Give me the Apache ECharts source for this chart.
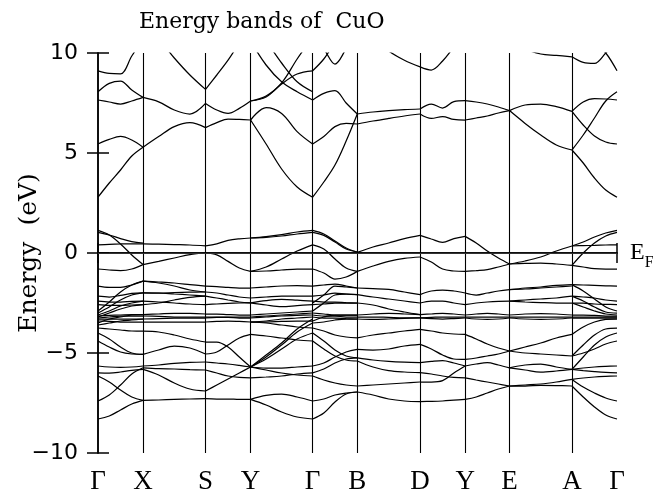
<!DOCTYPE html>
<html><head><meta charset="utf-8">
<script src="https://cdn.jsdelivr.net/npm/echarts@6/dist/echarts.min.js"></script>
<style>html,body{margin:0;padding:0;background:#fff}#c{width:653px;height:493px}</style>
</head><body><div id="c"></div>
<script>
// k-path positions of the high-symmetry points (arbitrary units)
const kNodes = [0, 45, 107.4, 152.4, 214.4, 259, 321.7, 366.7, 411, 473.4, 518.4];
const kLabels = ['Γ', 'X', 'S', 'Y', 'Γ', 'B', 'D', 'Y', 'E', 'A', 'Γ'];
const yTicks = [-10, -5, 0, 5, 10];
const yTickLabels = ['\u221210', '\u22125', '0', '5', '10'];

// Each segment: list of bands, energies (eV) sampled evenly along the segment
const bandsGX = [
  [2.79, 3.5, 4.15, 4.85, 5.29], [5.45, 5.68, 5.83, 5.65, 5.29], [7.65, 7.55, 7.45, 7.6, 7.78],
  [8.06, 8.48, 8.6, 8.15, 7.78], [9.11, 8.98, 8.96, 9.85, 10.7],
  [1.13, 0.9, 0.45, -0.1, -0.58], [1.03, 0.9, 0.72, 0.57, 0.5], [0.41, 0.43, 0.45, 0.46, 0.46],
  [-0.8, -0.85, -0.88, -0.8, -0.58],
  [-1.66, -1.72, -1.72, -1.6, -1.41], [-2.9, -2.45, -1.95, -1.6, -1.41], [-2.16, -2.2, -2.12, -2.02, -1.99],
  [-3.0, -2.7, -2.35, -2.1, -1.99], [-2.41, -2.45, -2.45, -2.42, -2.41], [-3.1, -2.9, -2.65, -2.5, -2.41],
  [-2.58, -2.62, -2.62, -2.6, -2.58], [-3.2, -3.0, -2.8, -2.65, -2.58], [-3.15, -3.12, -3.1, -3.08, -3.08],
  [-3.25, -3.2, -3.15, -3.15, -3.15], [-3.3, -3.3, -3.3, -3.3, -3.3], [-3.4, -3.42, -3.45, -3.45, -3.45],
  [-3.5, -3.3, -3.2, -3.1, -3.08], [-3.6, -3.5, -3.4, -3.35, -3.3], [-3.75, -3.8, -3.85, -3.9, -3.91],
  [-4.0, -4.3, -4.7, -5.0, -5.07], [-4.4, -4.7, -4.95, -5.05, -5.07], [-5.65, -5.7, -5.72, -5.7, -5.65],
  [-5.99, -6.0, -5.95, -5.87, -5.82], [-6.15, -6.45, -6.85, -7.2, -7.37], [-7.4, -7.1, -6.6, -6.05, -5.74],
  [-8.3, -8.15, -7.85, -7.55, -7.37]
];
const bandsXS = [
  [5.29, 5.82, 6.32, 6.52, 6.27], [7.78, 7.56, 7.15, 6.95, 7.48], [11.4, 10.7, 9.75, 8.9, 8.18],
  [0.46, 0.44, 0.42, 0.4, 0.36], [-0.58, -0.42, -0.25, -0.08, 0.0],
  [-1.41, -1.45, -1.5, -1.58, -1.66], [-1.41, -1.5, -1.65, -1.85, -1.95], [-1.99, -2.0, -2.05, -2.1, -2.16],
  [-1.99, -2.0, -1.98, -1.96, -1.95], [-2.41, -2.45, -2.5, -2.55, -2.58], [-2.58, -2.5, -2.35, -2.22, -2.16],
  [-3.08, -3.05, -3.02, -3.02, -3.05], [-3.15, -3.17, -3.2, -3.2, -3.2], [-3.3, -3.28, -3.26, -3.25, -3.25],
  [-3.45, -3.45, -3.45, -3.45, -3.45], [-3.91, -3.95, -4.1, -4.3, -4.45], [-5.07, -4.85, -4.65, -4.75, -5.05],
  [-5.65, -5.6, -5.52, -5.47, -5.45], [-5.74, -5.78, -5.8, -5.83, -5.85], [-5.82, -6.1, -6.5, -6.8, -6.9],
  [-7.37, -7.35, -7.32, -7.3, -7.28]
];
const bandsSY = [
  [6.27, 6.52, 6.7, 6.68, 6.65], [7.48, 7.15, 6.98, 7.23, 7.6], [8.18, 8.9, 9.64, 10.5, 11.3],
  [0.36, 0.46, 0.63, 0.71, 0.75], [0.0, -0.09, -0.42, -0.75, -0.92],
  [-1.66, -1.68, -1.72, -1.75, -1.75], [-1.95, -2.0, -2.1, -2.2, -2.25], [-2.16, -2.25, -2.35, -2.45, -2.49],
  [-2.58, -2.55, -2.52, -2.5, -2.49], [-3.05, -3.05, -3.08, -3.1, -3.1], [-3.2, -3.2, -3.2, -3.2, -3.2],
  [-3.25, -3.22, -3.22, -3.25, -3.25], [-3.45, -3.42, -3.4, -3.42, -3.45], [-4.45, -4.45, -4.7, -5.2, -5.7],
  [-5.05, -4.95, -4.6, -4.25, -4.07], [-5.45, -5.5, -5.55, -5.62, -5.7], [-5.85, -6.0, -6.15, -6.22, -6.24],
  [-6.9, -6.6, -6.3, -6.0, -5.7], [-7.28, -7.3, -7.3, -7.32, -7.32]
];
const bandsYG = [
  [6.65, 5.45, 4.2, 3.3, 2.79], [6.65, 7.27, 6.98, 6.07, 5.45], [7.6, 7.8, 8.45, 8.95, 9.11],
  [7.6, 7.85, 8.5, 9.7, 10.8], [10.6, 9.4, 8.56, 8.06, 7.65], [11.6, 10.6, 9.5, 8.56, 8.06],
  [0.75, 0.82, 0.92, 1.05, 1.13], [0.75, 0.78, 0.85, 0.95, 1.03], [-0.92, -0.7, -0.3, 0.1, 0.41],
  [-0.92, -0.9, -0.85, -0.8, -0.8],
  [-1.75, -1.7, -1.65, -1.63, -1.66], [-2.25, -2.2, -2.15, -2.15, -2.16], [-2.49, -2.38, -2.32, -2.36, -2.41],
  [-2.49, -2.6, -2.68, -2.63, -2.58], [-3.1, -3.05, -3.0, -2.95, -2.9], [-3.2, -3.15, -3.1, -3.05, -3.0],
  [-3.25, -3.2, -3.15, -3.12, -3.1], [-3.45, -3.4, -3.3, -3.25, -3.2], [-3.45, -3.45, -3.42, -3.4, -3.4],
  [-3.45, -3.5, -3.6, -3.7, -3.75], [-4.07, -4.15, -4.25, -4.35, -4.4], [-5.7, -5.1, -4.5, -3.8, -3.3],
  [-5.7, -5.2, -4.6, -3.95, -3.5], [-5.7, -5.3, -4.8, -4.3, -4.0], [-5.7, -5.75, -5.75, -5.7, -5.65],
  [-5.7, -5.85, -6.0, -6.1, -6.15], [-6.24, -6.2, -6.15, -6.05, -5.99], [-7.32, -7.6, -7.95, -8.2, -8.3],
  [-7.32, -7.12, -7.05, -7.2, -7.4]
];
const bandsGB = [
  [2.79, 3.55, 4.4, 5.6, 6.95], [5.45, 5.82, 6.32, 6.48, 6.45], [7.65, 7.98, 8.12, 7.5, 6.95],
  [9.11, 9.7, 10.5, 11, 11.5], [10.8, 10.2, 9.45, 10.2, 11],
  [1.13, 0.95, 0.6, 0.25, 0.05], [1.03, 0.88, 0.55, 0.2, 0.05], [0.41, 0.2, -0.3, -0.75, -0.92],
  [-0.8, -1.0, -1.3, -1.2, -0.92],
  [-1.66, -1.6, -1.55, -1.65, -1.75], [-2.5, -2.1, -1.65, -1.7, -1.75], [-2.16, -2.1, -2.0, -2.05, -2.08],
  [-2.9, -2.5, -2.1, -2.05, -2.08], [-2.41, -2.45, -2.45, -2.48, -2.5], [-2.58, -2.55, -2.5, -2.5, -2.5],
  [-3.0, -3.05, -3.1, -3.1, -3.1], [-3.1, -3.15, -3.15, -3.2, -3.2], [-3.2, -3.25, -3.25, -3.28, -3.3],
  [-3.4, -3.2, -3.1, -3.1, -3.1], [-3.5, -3.45, -3.35, -3.3, -3.3], [-3.75, -3.9, -4.1, -4.2, -4.24],
  [-4.0, -4.4, -4.85, -5.15, -5.24], [-4.4, -4.8, -5.15, -5.35, -5.4], [-5.65, -5.5, -5.2, -4.95, -4.82],
  [-5.99, -5.8, -5.5, -5.3, -5.24], [-6.15, -6.35, -6.5, -6.6, -6.65], [-7.4, -7.3, -7.1, -7.0, -6.95],
  [-8.3, -8.0, -7.45, -7.05, -6.95]
];
const bandsBD = [
  [6.95, 7.05, 7.12, 7.17, 7.2], [6.45, 6.6, 6.73, 6.85, 6.95], [11.6, 10.8, 10.1, 9.64, 9.31],
  [0.03, 0.3, 0.5, 0.72, 0.88], [-0.92, -0.65, -0.42, -0.27, -0.2],
  [-1.75, -1.78, -1.82, -1.95, -2.08], [-2.08, -2.2, -2.3, -2.4, -2.5], [-2.5, -2.6, -2.8, -2.95, -3.08],
  [-3.1, -3.05, -3.02, -3.05, -3.08], [-3.2, -3.2, -3.22, -3.24, -3.24], [-3.3, -3.32, -3.3, -3.27, -3.24],
  [-4.24, -4.1, -4.0, -3.9, -3.82], [-4.82, -4.85, -4.8, -4.65, -4.57], [-5.24, -5.35, -5.42, -5.46, -5.48],
  [-5.4, -5.7, -5.88, -5.95, -5.98], [-6.65, -6.6, -6.55, -6.5, -6.45], [-6.95, -7.1, -7.3, -7.4, -7.43]
];
const bandsDY = [
  [9.31, 9.15, 9.6, 10.3, 11], [7.2, 7.45, 7.25, 7.57, 7.62], [6.95, 6.73, 6.82, 6.68, 6.65],
  [0.88, 0.7, 0.53, 0.72, 0.83], [-0.2, -0.45, -0.8, -0.9, -0.92],
  [-2.08, -1.9, -1.85, -1.9, -2.0], [-2.5, -2.4, -2.4, -2.5, -2.58], [-3.08, -3.05, -3.02, -3.05, -3.1],
  [-3.24, -3.22, -3.2, -3.2, -3.2], [-3.24, -3.28, -3.3, -3.28, -3.25], [-3.82, -3.9, -4.0, -4.05, -4.07],
  [-4.57, -4.8, -5.1, -5.3, -5.32], [-5.48, -5.42, -5.38, -5.5, -5.65], [-5.98, -6.05, -6.15, -6.22, -6.24],
  [-6.45, -6.45, -6.38, -6.0, -5.65], [-7.43, -7.42, -7.4, -7.36, -7.32]
];
const bandsYE = [
  [7.62, 7.55, 7.45, 7.3, 7.12], [6.65, 6.75, 6.85, 7.0, 7.12],
  [0.83, 0.5, 0.1, -0.25, -0.55], [-0.92, -0.88, -0.83, -0.7, -0.55],
  [-2.0, -2.1, -2.0, -1.9, -1.83], [-2.58, -2.5, -2.45, -2.42, -2.41], [-3.1, -3.05, -3.02, -3.05, -3.1],
  [-3.2, -3.2, -3.2, -3.2, -3.2], [-3.25, -3.3, -3.32, -3.3, -3.25], [-4.07, -4.3, -4.55, -4.75, -4.9],
  [-5.32, -5.25, -5.15, -5.05, -4.9], [-5.65, -5.55, -5.48, -5.6, -5.74], [-6.24, -6.35, -6.45, -6.55, -6.65],
  [-7.32, -7.2, -7.0, -6.8, -6.65]
];
const bandsEA = [
  [7.12, 7.4, 7.45, 7.32, 7.08], [7.12, 6.48, 5.9, 5.4, 5.15], [10.6, 10.2, 9.95, 9.88, 9.81],
  [-0.55, -0.4, -0.2, 0.1, 0.35], [-0.55, -0.52, -0.5, -0.55, -0.62],
  [-1.83, -1.75, -1.7, -1.62, -1.58], [-1.83, -1.8, -1.75, -1.7, -1.65], [-2.41, -2.35, -2.3, -2.25, -2.16],
  [-2.41, -2.45, -2.48, -2.5, -2.5], [-3.1, -3.05, -3.03, -3.05, -3.1], [-3.2, -3.2, -3.2, -3.2, -3.2],
  [-3.25, -3.3, -3.32, -3.3, -3.25], [-4.9, -4.7, -4.5, -4.25, -4.07], [-4.9, -5.0, -5.05, -5.1, -5.15],
  [-5.74, -5.6, -5.55, -5.7, -5.82], [-5.74, -5.85, -5.95, -5.9, -5.82], [-6.65, -6.6, -6.55, -6.45, -6.32],
  [-6.65, -6.65, -6.62, -6.63, -6.65]
];
const bandsAG = [
  [7.08, 6.4, 5.85, 5.55, 5.45], [7.08, 7.55, 7.72, 7.7, 7.65], [5.15, 5.9, 6.75, 7.6, 8.06],
  [5.15, 4.5, 3.75, 3.15, 2.79], [9.81, 9.53, 9.48, 10.0, 10.6], [11.5, 11, 10.5, 10.0, 9.11],
  [0.35, 0.55, 0.8, 1.0, 1.13], [0.35, 0.37, 0.38, 0.4, 0.41], [-0.62, 0.0, 0.5, 0.85, 1.03],
  [-0.62, -0.7, -0.78, -0.8, -0.8],
  [-1.58, -1.6, -1.62, -1.64, -1.66], [-1.58, -1.9, -2.3, -2.7, -2.9], [-2.16, -2.4, -2.7, -2.95, -3.0],
  [-2.16, -2.2, -2.25, -2.35, -2.41], [-2.5, -2.7, -2.9, -3.05, -3.1], [-2.5, -2.5, -2.55, -2.57, -2.58],
  [-3.1, -3.1, -3.12, -3.15, -3.15], [-3.2, -3.2, -3.2, -3.2, -3.2], [-3.25, -3.25, -3.25, -3.25, -3.25],
  [-4.07, -3.7, -3.45, -3.32, -3.3], [-5.15, -4.6, -4.1, -3.8, -3.75], [-5.82, -5.2, -4.6, -4.2, -4.0],
  [-5.15, -5.0, -4.8, -4.55, -4.4], [-5.82, -5.75, -5.7, -5.67, -5.65], [-5.82, -5.88, -5.93, -5.97, -5.99],
  [-6.32, -6.25, -6.2, -6.17, -6.15], [-6.32, -6.7, -7.0, -7.25, -7.4], [-6.65, -7.2, -7.7, -8.1, -8.3]
];

const segments = [bandsGX, bandsXS, bandsSY, bandsYG, bandsGB, bandsBD, bandsDY, bandsYE, bandsEA, bandsAG];

const series = [];
segments.forEach((lines, s) => {
  const k0 = kNodes[s], k1 = kNodes[s + 1];
  lines.forEach(line => {
    const n = line.length;
    series.push({
      type: 'line', smooth: 0.35, symbol: 'none', silent: true, animation: false,
      lineStyle: { color: '#000', width: 1.25 },
      data: line.map((e, j) => [k0 + (k1 - k0) * j / (n - 1), e])
    });
  });
});
series[0].markLine = {
  silent: true, animation: false, symbol: ['none', 'none'], label: { show: false },
  lineStyle: { color: '#000', width: 1.1, type: 'solid' },
  data: kNodes.slice(1, -1).map(k => ({ xAxis: k })).concat([{ yAxis: 0, lineStyle: { width: 0.7, color: '#444' } }])
};

const frame = { show: true, lineStyle: { color: '#000', width: 1.5 } };
const tickStyle = { color: '#000', width: 1.5 };
const option = {
  animation: false,
  title: {
    text: 'Energy bands of  CuO', left: 134, top: 6,
    textStyle: { fontFamily: 'DejaVu Serif', fontSize: 22, fontWeight: 'normal', color: '#000' }
  },
  grid: { left: 98, right: 36, top: 53, bottom: 40, containLabel: false, outerBoundsMode: 'none' },
  xAxis: [
    {
      type: 'value', min: kNodes[0], max: kNodes[kNodes.length - 1], position: 'bottom',
      axisLine: frame, splitLine: { show: false },
      axisTick: { show: true, inside: false, length: 10, customValues: [kNodes[0], kNodes[kNodes.length - 1]], lineStyle: tickStyle },
      axisLabel: {
        customValues: kNodes, formatter: v => kLabels[kNodes.indexOf(v)], showMinLabel: true, showMaxLabel: true,
        hideOverlap: false, fontFamily: 'Liberation Serif', fontSize: 27, color: '#000', margin: 15
      }
    },
    {
      type: 'value', min: kNodes[0], max: kNodes[kNodes.length - 1], position: 'top',
      axisLine: frame, splitLine: { show: false }, axisLabel: { show: false },
      axisTick: { show: true, inside: false, length: 10, customValues: [kNodes[0], kNodes[kNodes.length - 1]], lineStyle: tickStyle }
    }
  ],
  yAxis: [
    {
      type: 'value', min: -10, max: 10, interval: 5, position: 'left',
      axisLine: frame, splitLine: { show: false },
      axisTick: { show: true, inside: false, length: 11, lineStyle: tickStyle },
      axisLabel: { formatter: v => yTickLabels[yTicks.indexOf(v)], fontFamily: 'DejaVu Sans', fontSize: 22, color: '#000', margin: 20 },
      name: 'Energy  (eV)', nameLocation: 'middle', nameRotate: 90, nameGap: 56, nameMoveOverlap: false,
      nameTextStyle: { fontFamily: 'DejaVu Serif', fontSize: 25, color: '#000' }
    },
    {
      type: 'value', min: -10, max: 10, interval: 5, position: 'right',
      axisLine: frame, splitLine: { show: false },
      axisTick: { show: true, inside: false, length: 11, lineStyle: tickStyle },
      axisLabel: {
        formatter: v => v === 0 ? '{e|E}{f|F}' : '', margin: 13,
        rich: {
          e: { fontFamily: 'Liberation Serif', fontSize: 24, color: '#000' },
          f: { fontFamily: 'Liberation Serif', fontSize: 16, color: '#000', padding: [20, 0, 0, 0] }
        }
      }
    }
  ],
  series: series
};
const chart = echarts.init(document.getElementById('c'), null, { renderer: 'canvas' });
chart.setOption(option);
</script></body></html>
